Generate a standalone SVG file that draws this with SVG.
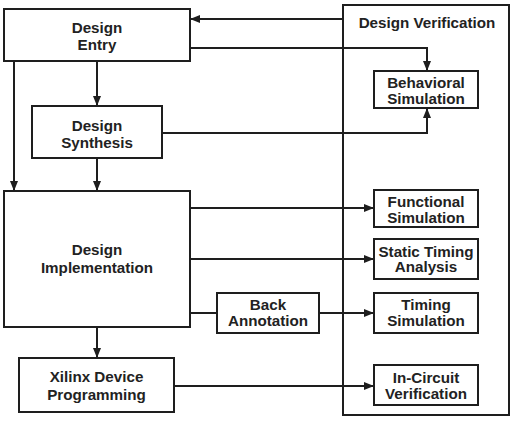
<svg xmlns="http://www.w3.org/2000/svg" width="518" height="422" viewBox="0 0 518 422">
<defs>
<style>
.box{fill:#fff;stroke:#1e1e1e;stroke-width:2}
.frame{fill:none;stroke:#1e1e1e;stroke-width:2}
.t{font-family:"Liberation Sans",Arial,sans-serif;font-weight:bold;font-size:15.2px;fill:#222;text-anchor:middle}
.c{fill:none;stroke:#1e1e1e;stroke-width:2}
</style>
<marker id="ah" viewBox="0 0 10 8" refX="10" refY="4" markerWidth="10" markerHeight="8" markerUnits="userSpaceOnUse" orient="auto">
<path d="M0,0 L10,4 L0,8 Z" fill="#1e1e1e"/>
</marker>
</defs>
<rect width="518" height="422" fill="#fff"/>
<g id="verification">
<rect class="frame" x="343" y="5" width="166" height="410"/>
<text class="t" x="427" y="27.5">Design Verification</text>
</g>
<g id="connectors">
<path class="c" d="M343,19 H190" marker-end="url(#ah)"/>
<path class="c" d="M190,48 H427 V71" marker-end="url(#ah)"/>
<path class="c" d="M162,133 H427 V108" marker-end="url(#ah)"/>
<path class="c" d="M97,61 V106" marker-end="url(#ah)"/>
<path class="c" d="M14,61 V191" marker-end="url(#ah)"/>
<path class="c" d="M97,158 V191" marker-end="url(#ah)"/>
<path class="c" d="M190,208 H374" marker-end="url(#ah)"/>
<path class="c" d="M190,259 H374" marker-end="url(#ah)"/>
<path class="c" d="M190,313 H217"/>
<path class="c" d="M319,313 H374" marker-end="url(#ah)"/>
<path class="c" d="M97,327 V358" marker-end="url(#ah)"/>
<path class="c" d="M174,386 H374" marker-end="url(#ah)"/>
</g>
<g id="entry">
<rect class="box" x="4" y="9" width="186" height="52"/>
<text class="t" x="97" y="32.5">Design</text>
<text class="t" x="97" y="50">Entry</text>
</g>
<g id="synthesis">
<rect class="box" x="32" y="106" width="130" height="52"/>
<text class="t" x="97" y="130.5">Design</text>
<text class="t" x="97" y="148">Synthesis</text>
</g>
<g id="implementation">
<rect class="box" x="4" y="191" width="186" height="136"/>
<text class="t" x="97" y="254.5">Design</text>
<text class="t" x="97" y="272.5">Implementation</text>
</g>
<g id="xilinx">
<rect class="box" x="19" y="358" width="155" height="54"/>
<text class="t" x="96.5" y="382">Xilinx Device</text>
<text class="t" x="96.5" y="400">Programming</text>
</g>
<g id="back">
<rect class="box" x="217" y="293" width="102" height="40"/>
<text class="t" x="268" y="310">Back</text>
<text class="t" x="268" y="326">Annotation</text>
</g>
<g id="behavioral">
<rect class="box" x="374" y="71" width="104" height="37"/>
<text class="t" x="426" y="87.5">Behavioral</text>
<text class="t" x="426" y="103.5">Simulation</text>
</g>
<g id="functional">
<rect class="box" x="374" y="190" width="104" height="37"/>
<text class="t" x="426" y="206.5">Functional</text>
<text class="t" x="426" y="222.5">Simulation</text>
</g>
<g id="static">
<rect class="box" x="374" y="239" width="104" height="40"/>
<text class="t" x="426" y="256.5">Static Timing</text>
<text class="t" x="426" y="272">Analysis</text>
</g>
<g id="timing">
<rect class="box" x="374" y="293" width="104" height="40"/>
<text class="t" x="426" y="309.5">Timing</text>
<text class="t" x="426" y="325.5">Simulation</text>
</g>
<g id="incircuit">
<rect class="box" x="374" y="365" width="104" height="40"/>
<text class="t" x="426" y="382.5">In-Circuit</text>
<text class="t" x="426" y="398.5">Verification</text>
</g>
</svg>
